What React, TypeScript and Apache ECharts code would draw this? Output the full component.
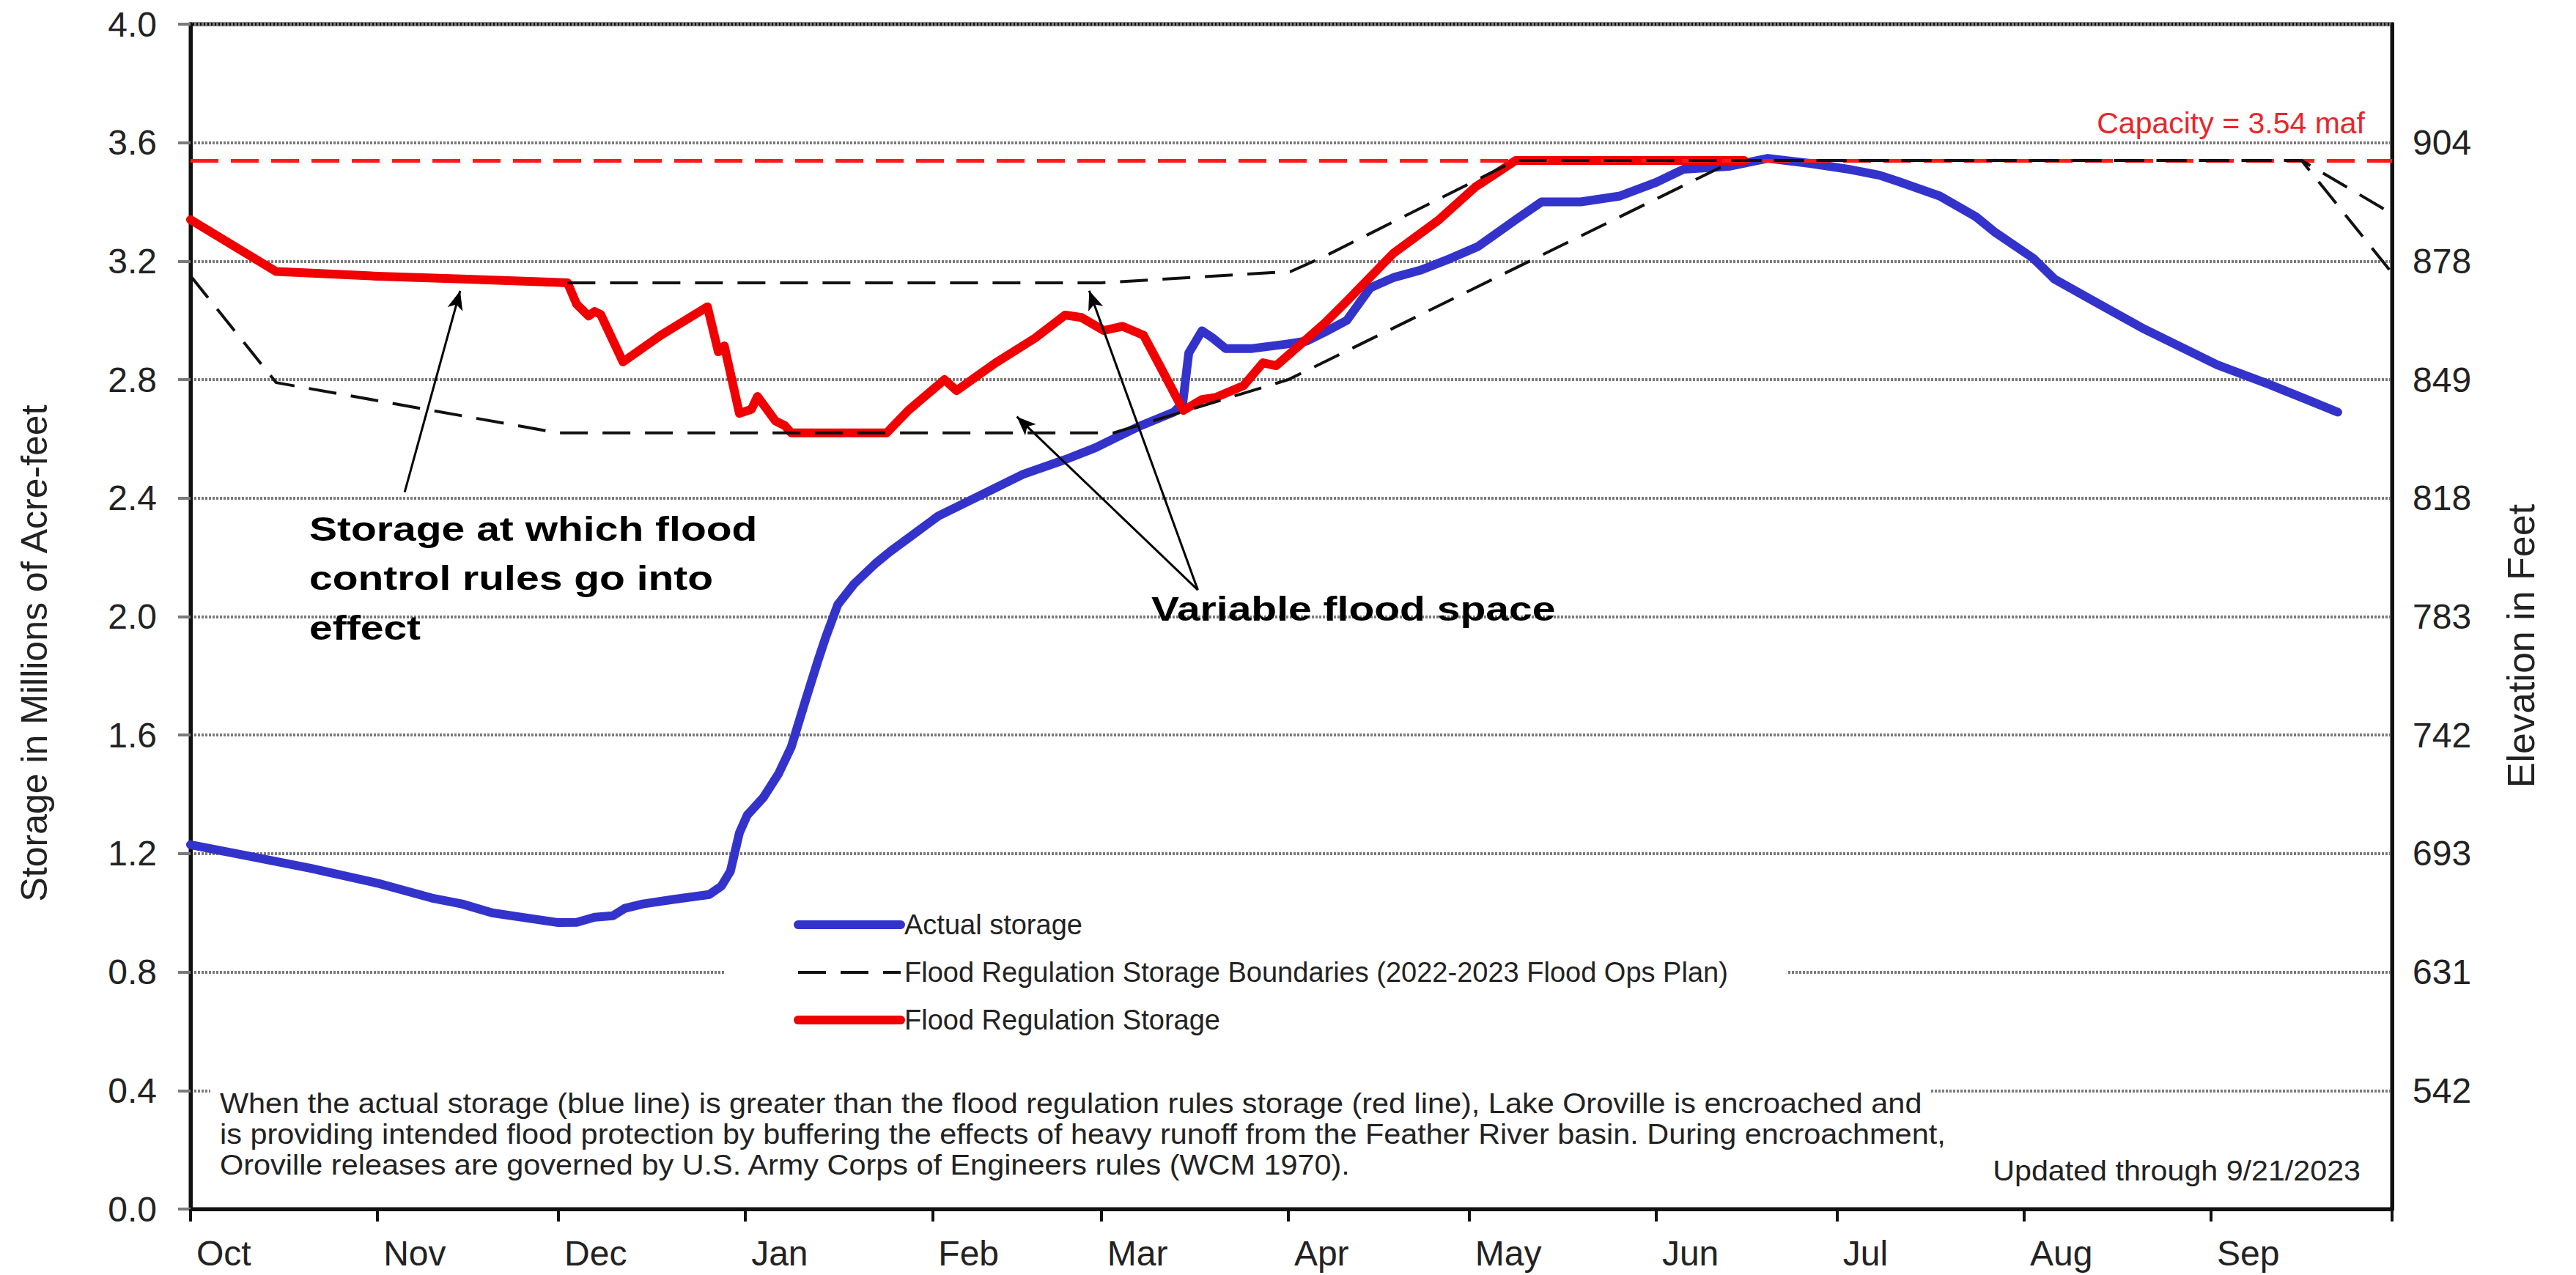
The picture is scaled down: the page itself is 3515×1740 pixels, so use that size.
import React, { useEffect, useRef } from "react";
import * as echarts from "echarts";

// ---- Data (x = day of water year, 0 = Oct 1) ----
const MONTHS = ["Oct", "Nov", "Dec", "Jan", "Feb", "Mar", "Apr", "May", "Jun", "Jul", "Aug", "Sep"];
const MONTH_START_DAYS = [0, 31, 61, 92, 123, 151, 182, 212, 243, 273, 304, 335];
const YEAR_END_DAY = 365;

const ELEVATION_LABELS = ["", "542", "631", "693", "742", "783", "818", "849", "878", "904", ""];

const CAPACITY = 3.54;

const ACTUAL_DAYS = [
  0, 10, 20, 31, 40, 45, 50, 55, 61, 64, 67, 70, 72, 75, 80, 86, 88, 89.5, 91, 92.3, 95, 97.5, 99.6, 102,
  104, 105.3, 107.3, 110, 113.6, 116, 120, 124, 130, 138, 145, 150, 157, 163, 164.5, 165.5, 167.7, 169.5,
  171.6, 176, 181.7, 185, 188, 191.7, 195.6, 199.5, 204, 209, 213.5, 219.7, 224, 230.5, 237, 243, 247.5,
  255, 261.5, 268.5, 275, 280, 283, 290, 296, 299, 305.5, 309, 316, 324, 330, 336, 344.5, 350, 356,
];
const ACTUAL_STORAGE = [
  1.23, 1.19, 1.15, 1.1, 1.05, 1.03, 1.0, 0.985, 0.967, 0.968, 0.985, 0.99, 1.015, 1.03, 1.045, 1.062, 1.09,
  1.14, 1.27, 1.33, 1.39, 1.47, 1.56, 1.72, 1.85, 1.93, 2.04, 2.11, 2.18, 2.22, 2.28, 2.34, 2.4, 2.48, 2.53,
  2.57, 2.64, 2.69, 2.72, 2.89, 2.965, 2.94, 2.905, 2.905, 2.92, 2.93, 2.96, 3.0, 3.11, 3.145, 3.17, 3.21,
  3.25, 3.34, 3.4, 3.4, 3.42, 3.466, 3.51, 3.52, 3.547, 3.53, 3.51, 3.49, 3.47, 3.42, 3.35, 3.3, 3.21, 3.14,
  3.06, 2.97, 2.91, 2.85, 2.785, 2.74, 2.69,
];

const REG_DAYS = [
  0, 14.2, 30, 45, 62.5, 64, 66, 67, 68, 71.7, 78, 85.7, 87.5, 88.5, 91, 93, 94, 97, 98.5, 99.6, 115.4, 119,
  125, 127, 133.5, 140, 145, 147.7, 151.4, 154.5, 158, 160.7, 164.6, 167.7, 170, 174.6, 177.8, 180, 188,
  191.7, 199.4, 207, 213, 219.7, 257.6,
];
const REG_STORAGE = [
  3.34, 3.165, 3.15, 3.14, 3.127, 3.055, 3.015, 3.03, 3.02, 2.86, 2.95, 3.046, 2.894, 2.914, 2.686, 2.7,
  2.743, 2.66, 2.645, 2.62, 2.62, 2.696, 2.8, 2.763, 2.857, 2.94, 3.018, 3.01, 2.966, 2.98, 2.95, 2.847,
  2.696, 2.733, 2.74, 2.78, 2.857, 2.847, 2.99, 3.065, 3.226, 3.34, 3.45, 3.54, 3.54,
];

const LOWER_DAYS = [0, 14.2, 61, 153, 182, 256, 350, 365];
const LOWER_BOUND = [3.15, 2.79, 2.62, 2.62, 2.8, 3.54, 3.54, 3.16];
const UPPER_DAYS = [62.5, 151, 182.4, 188, 219.7, 350, 365];
const UPPER_BOUND = [3.127, 3.127, 3.165, 3.216, 3.54, 3.54, 3.36];

const BOUNDARY_NAME = "Flood Regulation Storage Boundaries (2022-2023 Flood Ops Plan)";

// annotation arrows in data units: [fromDay, fromValue, toDay, toValue]
const ARROWS = [
  [35.5, 2.42, 44.7, 3.1],
  [167, 2.09, 137, 2.675],
  [167, 2.09, 149, 3.1],
];

const zip = (xs: number[], ys: number[]) => xs.map((x, i) => [x, ys[i]]);

const FONT = "Liberation Sans, Arial, sans-serif";

export default function App() {
  const ref = useRef<HTMLDivElement>(null);

  useEffect(() => {
    const chart = echarts.init(ref.current!, null, { renderer: "svg" });

    const dashBlack = { color: "#111", width: 4, type: [38, 20] as any };

    const option: any = {
      animation: false,
      backgroundColor: "#fff",
      textStyle: { fontFamily: FONT },
      grid: {
        left: 260,
        right: 251,
        top: 33,
        bottom: 90,
        show: true,
        borderColor: "#111",
        borderWidth: 5,
        backgroundColor: "transparent",
      },
      legend: {
        data: ["Actual storage", BOUNDARY_NAME, "Flood Regulation Storage"],
        orient: "vertical",
        left: 990,
        top: 1230,
        itemWidth: 140,
        itemHeight: 14,
        itemGap: 25,
        backgroundColor: "#fff",
        padding: [12, 80, 12, 93],
        lineStyle: { width: "inherit" },
        itemStyle: { opacity: 0 },
        textStyle: { fontSize: 38, color: "#222", lineHeight: 40, fontFamily: FONT },
        selectedMode: false,
      },
      xAxis: {
        type: "value",
        min: 0,
        max: YEAR_END_DAY,
        splitLine: { show: false },
        axisLine: { show: true, lineStyle: { color: "#111", width: 5 } },
        axisTick: {
          show: true,
          customValues: [...MONTH_START_DAYS, YEAR_END_DAY],
          length: 17,
          lineStyle: { color: "#111", width: 4 },
        },
        axisLabel: {
          customValues: MONTH_START_DAYS,
          formatter: (v: number) => MONTHS[MONTH_START_DAYS.indexOf(Math.round(v))] ?? "",
          align: "left",
          padding: [0, 0, 0, 8],
          margin: 36,
          fontSize: 48,
          color: "#222",
          fontFamily: FONT,
        },
      },
      yAxis: [
        {
          type: "value",
          min: 0,
          max: 4,
          interval: 0.4,
          position: "left",
          name: "Storage in Millions of Acre-feet",
          nameLocation: "middle",
          nameRotate: 90,
          nameGap: 188,
          nameTextStyle: { fontSize: 50, color: "#222", fontFamily: FONT, padding: [0, 100, 0, 0] },
          axisLine: { show: true, lineStyle: { color: "#111", width: 5 } },
          axisTick: { show: true, length: 17, lineStyle: { color: "#7a7a7a", width: 4 } },
          axisLabel: {
            formatter: (v: number) => v.toFixed(1),
            fontSize: 48,
            color: "#222",
            margin: 46,
            fontFamily: FONT,
          },
          splitLine: { show: true, lineStyle: { color: "#7a7a7a", width: 4, type: [3, 2] } },
        },
        {
          type: "value",
          min: 0,
          max: 4,
          interval: 0.4,
          position: "right",
          name: "Elevation in Feet",
          nameLocation: "middle",
          nameRotate: 90,
          nameGap: 150,
          nameTextStyle: { fontSize: 52, color: "#222", fontFamily: FONT, padding: [0, 80, 0, 0] },
          axisLine: { show: true, lineStyle: { color: "#111", width: 5 } },
          axisTick: { show: false },
          axisLabel: {
            formatter: (v: number) => ELEVATION_LABELS[Math.round(v / 0.4)] ?? "",
            fontSize: 48,
            color: "#222",
            margin: 28,
            fontFamily: FONT,
          },
          splitLine: { show: false },
        },
      ],
      series: [
        {
          name: "Actual storage",
          type: "line",
          data: zip(ACTUAL_DAYS, ACTUAL_STORAGE),
          symbol: "none",
          showSymbol: false,
          z: 3,
          lineStyle: { color: "#3333cc", width: 12, cap: "round", join: "round" },
          itemStyle: { color: "#3333cc" },
        },
        {
          name: "Flood Regulation Storage",
          type: "line",
          data: zip(REG_DAYS, REG_STORAGE),
          symbol: "none",
          showSymbol: false,
          z: 4,
          lineStyle: { color: "#f00000", width: 12, cap: "round", join: "round" },
          itemStyle: { color: "#f00000" },
        },
        {
          name: BOUNDARY_NAME,
          type: "line",
          data: zip(LOWER_DAYS, LOWER_BOUND),
          symbol: "none",
          showSymbol: false,
          z: 5,
          lineStyle: dashBlack,
          itemStyle: { color: "#111" },
        },
        {
          name: BOUNDARY_NAME,
          type: "line",
          data: zip(UPPER_DAYS, UPPER_BOUND),
          symbol: "none",
          showSymbol: false,
          z: 5,
          lineStyle: dashBlack,
          itemStyle: { color: "#111" },
        },
        {
          name: "Capacity",
          type: "line",
          data: [],
          z: 6,
          markLine: {
            silent: true,
            symbol: ["none", "none"],
            lineStyle: { color: "#ff1a1a", width: 5, type: [38, 17] },
            label: {
              show: true,
              position: "insideEndTop",
              formatter: "Capacity = 3.54 maf",
              color: "#e8262b",
              fontSize: 41,
              fontFamily: FONT,
              distance: [37, 30],
            },
            data: [{ yAxis: CAPACITY }],
          },
        },
        {
          name: "Annotations",
          type: "line",
          data: [],
          z: 7,
          markLine: {
            silent: true,
            symbol: ["none", "arrow"],
            symbolSize: [16, 26],
            lineStyle: { color: "#000", width: 3, type: "solid" },
            label: { show: false },
            data: ARROWS.map((a) => [{ coord: [a[0], a[1]] }, { coord: [a[2], a[3]] }]),
          },
        },
      ],
      graphic: [
        ...["Storage at which flood", "control rules go into", "effect"].map((t, i) => ({
          type: "text",
          x: 422,
          y: 722 + i * 67.5,
          scaleX: 1.24,
          z: 20,
          style: {
            text: t,
            fontSize: 46,
            fontWeight: "bold",
            fontFamily: FONT,
            fill: "#000",
            verticalAlign: "middle",
          },
        })),
        {
          type: "text",
          x: 1571,
          y: 831,
          scaleX: 1.24,
          z: 20,
          style: {
            text: "Variable flood space",
            fontSize: 46,
            fontWeight: "bold",
            fontFamily: FONT,
            fill: "#000",
            verticalAlign: "middle",
          },
        },
        {
          type: "rect",
          z: 10,
          shape: { x: 287, y: 1462, width: 2347, height: 160 },
          style: { fill: "#fff" },
        },
        ...[
          "When the actual storage (blue line) is greater than the flood regulation rules storage (red line), Lake Oroville is encroached and",
          "is providing intended flood protection by buffering the effects of heavy runoff from the Feather River basin. During encroachment,",
          "Oroville releases are governed by U.S. Army Corps of Engineers rules (WCM 1970).",
        ].map((t, i) => ({
          type: "text",
          x: 300,
          y: 1506 + i * 42,
          scaleX: 1.09,
          z: 11,
          style: {
            text: t,
            fontSize: 38,
            fontFamily: FONT,
            fill: "#222",
            verticalAlign: "middle",
          },
        })),
        {
          type: "text",
          x: 3221,
          y: 1598,
          scaleX: 1.085,
          z: 11,
          style: {
            text: "Updated through 9/21/2023",
            fontSize: 38,
            fontFamily: FONT,
            fill: "#222",
            align: "right",
            verticalAlign: "middle",
          },
        },
      ],
    };

    chart.setOption(option);
    return () => chart.dispose();
  }, []);

  return (
    <div
      ref={ref}
      style={{ position: "fixed", left: 0, top: 0, width: 3515, height: 1740, background: "#fff" }}
    />
  );
}
